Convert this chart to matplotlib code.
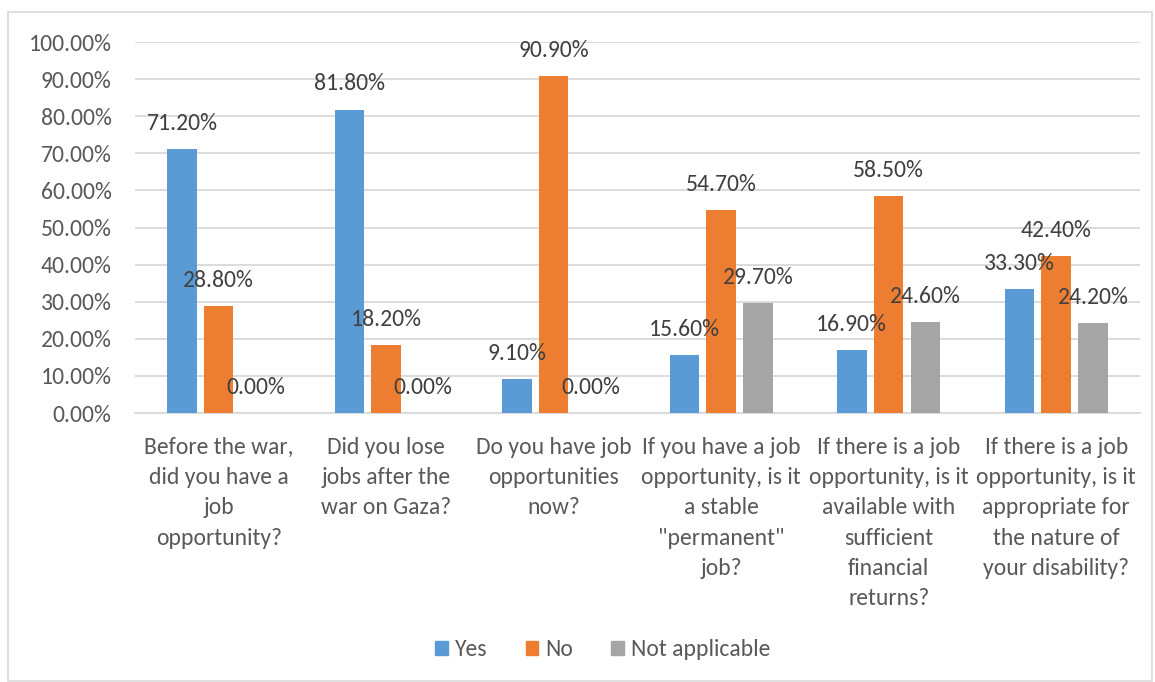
import matplotlib.pyplot as plt
from matplotlib.patches import Rectangle, Patch
from matplotlib.ticker import FuncFormatter
import numpy as np

plt.rcParams['font.family'] = ['Carlito', 'Lato', 'DejaVu Sans']

questions = [
    "Before the war,\ndid you have a\njob\nopportunity?",
    "Did you lose\njobs after the\nwar on Gaza?",
    "Do you have job\nopportunities\nnow?",
    "If you have a job\nopportunity, is it\na stable\n\"permanent\"\njob?",
    "If there is a job\nopportunity, is it\navailable with\nsufficient\nfinancial\nreturns?",
    "If there is a job\nopportunity, is it\nappropriate for\nthe nature of\nyour disability?",
]
yes = [71.2, 81.8, 9.1, 15.6, 16.9, 33.3]
no = [28.8, 18.2, 90.9, 54.7, 58.5, 42.4]
not_applicable = [0.0, 0.0, 0.0, 29.7, 24.6, 24.2]

series_names = ["Yes", "No", "Not applicable"]
colors = ["#5B9BD5", "#ED7D31", "#A5A5A5"]

fig = plt.figure(figsize=(11.55, 6.82), dpi=100)
ax = fig.add_axes([0.1169, 0.3944, 0.870, 0.5440])

# outer chart border
fig.patches.append(Rectangle((8 / 1155, 1 / 682), 1144 / 1155, 669 / 682,
                             transform=fig.transFigure, fill=False,
                             edgecolor="#D9D9D9", linewidth=1.2))

x = np.arange(len(questions))
width = 0.176
offsets = [-0.22, 0.0, 0.22]
text_color = "#404040"
tick_color = "#595959"
fs = 17

for vals, off, col in zip([yes, no, not_applicable], offsets, colors):
    ax.bar(x + off, [v / 100 for v in vals], width, color=col, zorder=3)
    for xi, v in zip(x, vals):
        ax.annotate(f"{v:.2f}%", (xi + off, v / 100), xytext=(0, 18.5),
                    textcoords="offset points", ha="center", va="center",
                    fontsize=fs, color=text_color, zorder=4)

ax.set_xlim(-0.5, len(questions) - 0.5)
ax.set_ylim(0, 1.0)
ax.set_yticks(np.arange(0, 1.01, 0.1))
ax.yaxis.set_major_formatter(FuncFormatter(lambda v, p: f"{v * 100:.2f}%"))
ax.grid(axis="y", color="#D9D9D9", linewidth=1.3, zorder=0)
ax.set_xticks(x)
ax.set_xticklabels(questions, fontsize=fs, color=tick_color, linespacing=1.55,
                   va="top")
ax.tick_params(axis="x", length=0, pad=17)
ax.tick_params(axis="y", length=0, pad=17, labelsize=fs, labelcolor=tick_color)
for side in ["top", "right", "left"]:
    ax.spines[side].set_visible(False)
ax.spines["bottom"].set_color("#D9D9D9")
ax.spines["bottom"].set_linewidth(1.3)

handles = [Patch(color=c, label=n) for c, n in zip(colors, series_names)]
fig.legend(handles=handles, loc="center", bbox_to_anchor=(0.522, 0.047), ncol=3,
           frameon=False, fontsize=fs, handlelength=0.55, handleheight=0.55,
           handletextpad=0.3, columnspacing=1.6, labelcolor=tick_color)

plt.savefig("out.png", dpi=100)
